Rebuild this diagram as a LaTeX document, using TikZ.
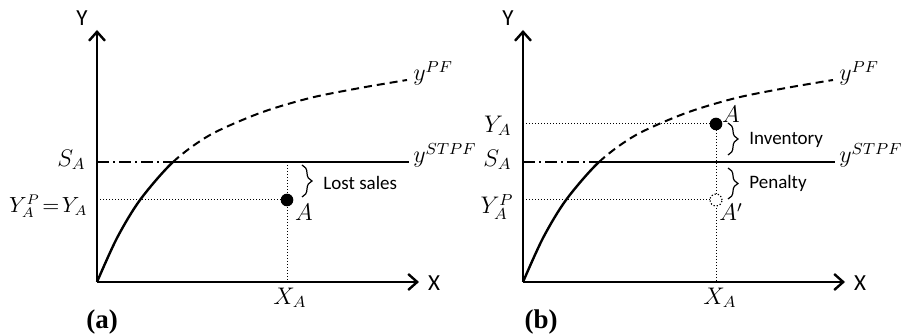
\documentclass[tikz,border=0pt]{standalone}
\usepackage{fontspec}
\usepackage{amsmath}
\newfontfamily\sansfont{Carlito}
\newfontfamily\capfont{Liberation Serif}
\usepackage{tikz}
\usetikzlibrary{arrows.meta,decorations.pathreplacing}

\begin{document}
\begin{tikzpicture}[
    x=0.5pt, y=0.5pt,
    axis/.style={line width=1.3pt, -{Straight Barb[length=4.5pt,width=8pt,line width=1.2pt]}},
    pf/.style={line width=1.2pt, line join=round},
    pfdash/.style={line width=1pt, dash pattern=on 4pt off 2.5pt},
    stpf/.style={line width=1.1pt},
    capline/.style={line width=1pt, dash pattern=on 6pt off 2pt on 1pt off 2pt},
    guide/.style={line width=0.5pt, densely dotted},
    mlabel/.style={font=\fontsize{11.5}{13}\selectfont, inner sep=0pt},
    tlabel/.style={font=\sansfont\fontsize{9.5}{11}\selectfont, inner sep=1pt, anchor=west},
    axlabel/.style={font=\sansfont\fontsize{11.5}{13}\selectfont, inner sep=0pt},
    panel/.style={font=\capfont\bfseries\fontsize{13.5}{15}\selectfont, inner sep=0pt},
    brace/.style={decorate, decoration={brace, amplitude=5pt}, line width=0.6pt},
    point/.style={circle, fill=black, inner sep=0pt, minimum size=6.3pt},
    ghost/.style={circle, draw, densely dotted, fill=white, line width=0.6pt, inner sep=0pt, minimum size=6pt},
]
\useasboundingbox (0,0) rectangle (904,335);

% axes, frontier y^PF and capacity line y^STPF -- same in both panels
\foreach \p/\sx/\cx in {a/97/5, b/523/18} {
  \begin{scope}[shift={(\sx,53)}]
    \coordinate (O\p) at (0,0);
    \coordinate (K\p) at (76,120); % frontier meets S_A
    \coordinate (SA\p) at (0,120);
    \begin{scope}
      \clip (-5,-5) rectangle (400,120);
      \draw[pf] plot[smooth] coordinates {(0,0) (20,44) (43,82) (76,120) (113,147) (163,169) (213,184) (263,194) (310,202)};
    \end{scope}
    \begin{scope}
      \clip (-5,120) rectangle (400,300);
      \draw[pfdash] plot[smooth] coordinates {(0,0) (20,44) (43,82) (76,120) (113,147) (163,169) (213,184) (263,194) (310,202)};
    \end{scope}
    \node[mlabel, anchor=base west] (ypf\p) at (316,201) {$y^{PF}$};
    \node[mlabel, anchor=base west] (ystpf\p) at (316,119) {$y^{STPF}$};
    \draw[capline] (SA\p) -- (K\p);
    \draw[stpf] (K\p) -- ([xshift=-2pt]ystpf\p.west |- K\p);
    \node[mlabel, anchor=east] (sal\p) at (-11,122) {$S_A$};
    % axes
    \node[axlabel] (ylab\p) at (-15,264) {Y};
    \node[axlabel] (xlab\p) at (337,-1) {X};
    \draw[axis] (O\p) -- (0,252);
    \draw[axis] (O\p) -- (322,0);
    \node[panel] (cap\p) at (\cx,-40) {(\p)};
  \end{scope}
}

% (a) lost sales
\begin{scope}[shift={(97,53)}]
  \coordinate (YAa) at (0,82);
  \coordinate (Aa) at (190,82);
  \draw[guide] (YAa) -- (Aa);
  \draw[guide] (190,120) -- (190,0);
  \node[point] (A) at (Aa) {};
  \node[mlabel] (Alab) at (207,70) {$A$};
  \node[mlabel, anchor=east, font=\fontsize{10.5}{12}\selectfont] (yapa) at (-9,76) {$Y_A^P\!=\!Y_A$};
  \node[mlabel] (xaa) at (193,-16) {$X_A$};
  \draw[brace] (205,117) -- (205,85);
  \node[tlabel] (lost) at (224,99) {Lost sales};
\end{scope}

% (b) inventory and penalty
\begin{scope}[shift={(523,53)}]
  \coordinate (YAb) at (0,158);
  \coordinate (YPb) at (0,82);
  \coordinate (Ab) at (193,158);
  \coordinate (Apb) at (193,82);
  \draw[guide] (YAb) -- (Ab);
  \draw[guide] (YPb) -- (Apb);
  \draw[guide] (Ab) -- (193,0);
  \node[point] (B) at (Ab) {};
  \node[ghost] (Bp) at (Apb) {};
  \node[mlabel] (Blab) at (208,168) {$A$};
  \node[mlabel] (Bplab) at (208,70) {$A'$};
  \node[mlabel, anchor=east] (yab) at (-11,156) {$Y_A$};
  \node[mlabel, anchor=east] (ypb) at (-9,75) {$Y_A^P$};
  \node[mlabel] (xab) at (197,-16) {$X_A$};
  \draw[brace] (205,159) -- (205,127);
  \node[tlabel] (inv) at (224,142) {Inventory};
  \draw[brace] (205,114) -- (205,83);
  \node[tlabel] (pen) at (224,99) {Penalty};
\end{scope}
\end{tikzpicture}
\end{document}
